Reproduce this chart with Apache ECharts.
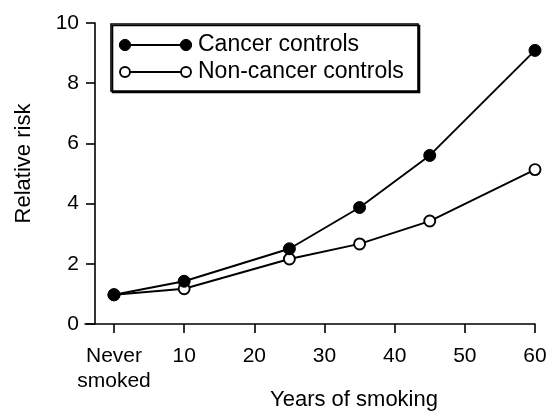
<!DOCTYPE html>
<html>
<head>
<meta charset="utf-8">
<script src="https://cdn.jsdelivr.net/npm/echarts@6/dist/echarts.min.js"></script>
<style>
html,body{margin:0;padding:0;background:#fff;}
#chart{width:553px;height:413px;}
</style>
</head>
<body>
<div id="chart"></div>
<script>
// Data (x = years of smoking, 0 = never smoked)
var years = [0, 10, 25, 35, 45, 60];
var cancerControls = [0.97, 1.42, 2.50, 3.87, 5.60, 9.09];
var nonCancerControls = [0.97, 1.17, 2.16, 2.66, 3.42, 5.13];
var xTickValues = [0, 10, 20, 30, 40, 50, 60];
var seriesNames = ['Cancer controls', 'Non-cancer controls'];

var FONT = 'Liberation Sans, Arial, Helvetica, sans-serif';
var chart = echarts.init(document.getElementById('chart'), null, {renderer: 'canvas'});

function pairs(xs, ys) { return xs.map(function (x, i) { return [x, ys[i]]; }); }

var legendBox = {x: 111, y: 24, w: 307, h: 67};
var legendGraphic = [
  {type: 'rect', shape: {x: legendBox.x, y: legendBox.y, width: legendBox.w, height: legendBox.h},
   style: {fill: '#fff', stroke: '#000', lineWidth: 1.6, shadowColor: '#000', shadowOffsetX: 1.5, shadowOffsetY: 1.5, shadowBlur: 0}, z: 10},
  // row 1
  {type: 'line', shape: {x1: 125, y1: 45, x2: 186, y2: 45}, style: {stroke: '#000', lineWidth: 1.9}, z: 11},
  {type: 'circle', shape: {cx: 125, cy: 45, r: 5.6}, style: {fill: '#000', stroke: '#000', lineWidth: 1}, z: 12},
  {type: 'circle', shape: {cx: 186, cy: 45, r: 5.6}, style: {fill: '#000', stroke: '#000', lineWidth: 1}, z: 12},
  {type: 'text', x: 198, y: 45, style: {text: seriesNames[0], font: '23px ' + FONT, fill: '#000', verticalAlign: 'middle', align: 'left'}, z: 12},
  // row 2
  {type: 'line', shape: {x1: 125, y1: 72, x2: 186, y2: 72}, style: {stroke: '#000', lineWidth: 1.9}, z: 11},
  {type: 'circle', shape: {cx: 125, cy: 72, r: 5}, style: {fill: '#fff', stroke: '#000', lineWidth: 1.9}, z: 12},
  {type: 'circle', shape: {cx: 186, cy: 72, r: 5}, style: {fill: '#fff', stroke: '#000', lineWidth: 1.9}, z: 12},
  {type: 'text', x: 198, y: 72, style: {text: seriesNames[1], font: '23px ' + FONT, fill: '#000', verticalAlign: 'middle', align: 'left'}, z: 12}
];

var option = {
  backgroundColor: '#fff',
  animation: false,
  textStyle: {fontFamily: FONT, color: '#000'},
  grid: {left: 85, right: 18, top: 23, bottom: 89, containLabel: false, outerBoundsMode: 'none'},
  xAxis: {
    type: 'value',
    min: -4.13,
    max: 60,
    name: 'Years of smoking',
    nameLocation: 'middle',
    nameGap: 64,
    nameMoveOverlap: false,
    nameTextStyle: {fontSize: 22, color: '#000', fontFamily: FONT, lineHeight: 24, padding: [0, 0, 0, 88]},
    axisLine: {show: true, onZero: false, lineStyle: {color: '#000', width: 1.6}},
    axisTick: {show: true, length: 9, lineStyle: {color: '#000', width: 1.6}, customValues: xTickValues},
    axisLabel: {
      customValues: xTickValues,
      margin: 20,
      fontSize: 21,
      lineHeight: 25,
      color: '#000',
      fontFamily: FONT,
      formatter: function (v) { return v === 0 ? 'Never\nsmoked' : String(v); }
    },
    splitLine: {show: false}
  },
  yAxis: {
    type: 'value',
    min: 0,
    max: 10,
    interval: 2,
    offset: -10,
    name: 'Relative risk',
    nameLocation: 'middle',
    nameGap: 59,
    nameMoveOverlap: false,
    nameTextStyle: {fontSize: 22, color: '#000', fontFamily: FONT, lineHeight: 24, padding: [0, 0, 0, 20]},
    axisLine: {show: true, onZero: false, lineStyle: {color: '#000', width: 1.6}},
    axisTick: {show: true, length: 9, lineStyle: {color: '#000', width: 1.6}},
    axisLabel: {margin: 16, fontSize: 21, color: '#000', fontFamily: FONT},
    splitLine: {show: false}
  },
  series: [
    {
      name: seriesNames[1],
      type: 'line',
      data: pairs(years, nonCancerControls),
      symbol: 'circle',
      symbolSize: 11,
      lineStyle: {color: '#000', width: 1.9},
      itemStyle: {color: '#fff', borderColor: '#000', borderWidth: 1.9},
      z: 3
    },
    {
      name: seriesNames[0],
      type: 'line',
      data: pairs(years, cancerControls),
      symbol: 'circle',
      symbolSize: 12,
      lineStyle: {color: '#000', width: 1.9},
      itemStyle: {color: '#000', borderColor: '#000', borderWidth: 1},
      z: 4
    }
  ],
  graphic: legendGraphic
};
chart.setOption(option);
</script>
</body>
</html>
